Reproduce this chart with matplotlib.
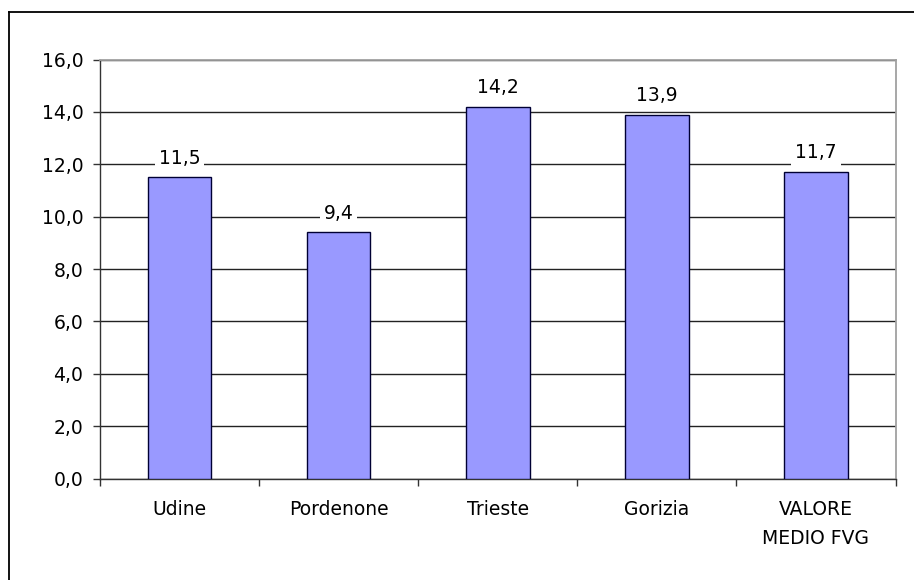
import numpy as np
import matplotlib
matplotlib.use('Agg')
import matplotlib.pyplot as plt
from matplotlib.lines import Line2D

# data
categories = ['Udine', 'Pordenone', 'Trieste', 'Gorizia', 'VALORE\nMEDIO FVG']
values = [11.5, 9.4, 14.2, 13.9, 11.7]
y_ticks = [0, 2, 4, 6, 8, 10, 12, 14, 16]

plt.rcParams['font.family'] = 'DejaVu Sans'
fs = 13.5

fig = plt.figure(figsize=(9.14, 5.8), dpi=100)
ax = fig.add_axes([0.1094, 0.1747, 0.9798 - 0.1094, 0.8974 - 0.1747])

x = np.arange(len(categories))
bars = ax.bar(x, values, width=0.4, color='#9999FF', edgecolor='#000033',
              linewidth=1.0, zorder=3)

# value labels with white background
for xi, v in zip(x, values):
    ax.annotate(f'{v:.1f}'.replace('.', ','), (xi, v), xytext=(0, 10),
                textcoords='offset points', ha='center', va='baseline',
                fontsize=fs, zorder=5,
                bbox=dict(boxstyle='square,pad=0.2', fc='white', ec='none'))

ax.set_xlim(-0.5, len(categories) - 0.5)
ax.set_ylim(0, 16)
ax.set_yticks(y_ticks)
ax.set_yticklabels([f'{t:.1f}'.replace('.', ',') for t in y_ticks], fontsize=fs)
ax.set_xticks(x)
ax.set_xticklabels(categories, fontsize=fs, linespacing=1.7)
ax.set_xticks(np.arange(-0.5, len(categories)), minor=True)
ax.tick_params(axis='x', which='major', length=0, pad=15)
ax.tick_params(axis='x', which='minor', length=5, width=1, color='#333333',
               direction='out')
ax.tick_params(axis='y', length=5, width=1, color='#333333', direction='out', pad=7)

ax.yaxis.grid(True, color='#222222', linewidth=1)
ax.set_axisbelow(True)

for s in ['left', 'bottom']:
    ax.spines[s].set_color('#333333')
    ax.spines[s].set_linewidth(1)
for s in ['top', 'right']:
    ax.spines[s].set_color('#A0A0A0')
    ax.spines[s].set_linewidth(1.3)
ax.spines['top'].set_zorder(4)

# outer chart border (left and top visible)
fig.add_artist(Line2D([9 / 914, 9 / 914], [0, 1 - 12 / 580], transform=fig.transFigure,
                      color='black', linewidth=1.3))
fig.add_artist(Line2D([9 / 914, 1], [1 - 12 / 580, 1 - 12 / 580], transform=fig.transFigure,
                      color='black', linewidth=1.3))

fig.savefig('out.png', dpi=100)
